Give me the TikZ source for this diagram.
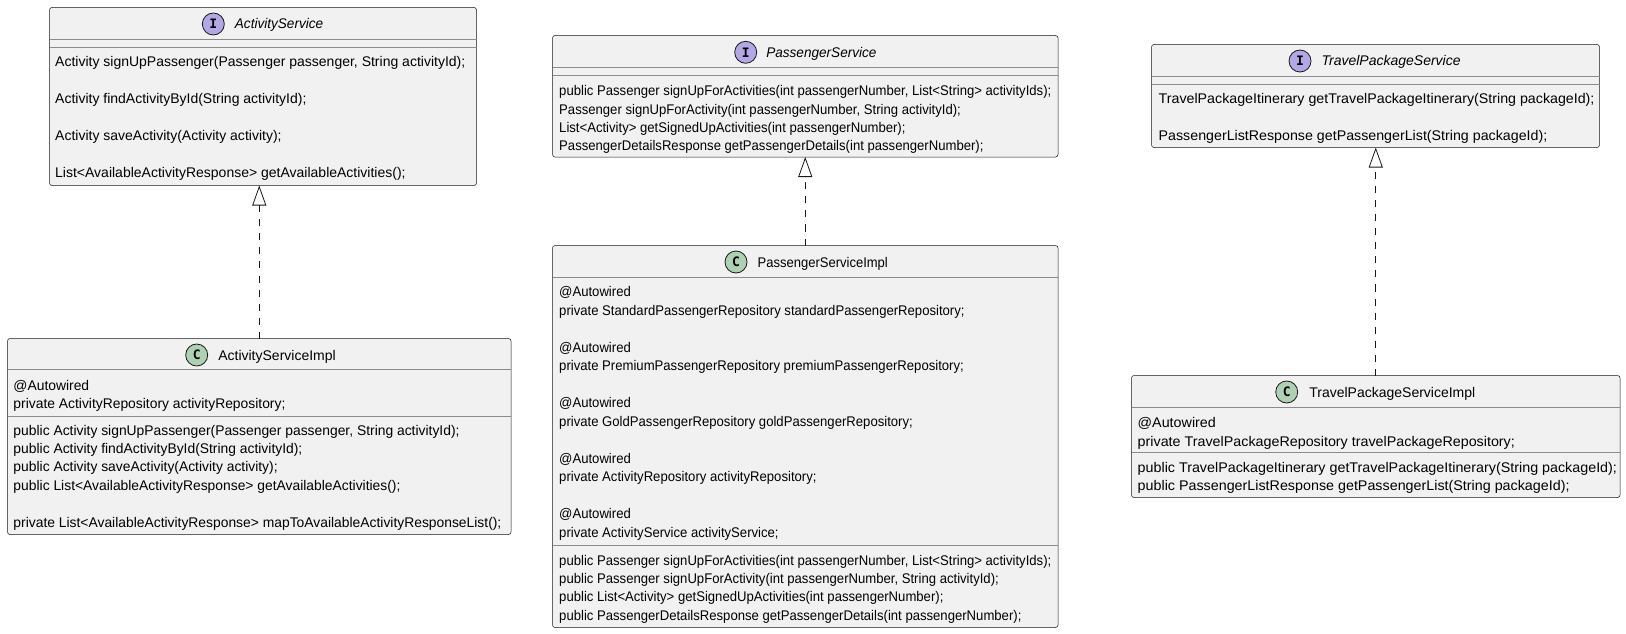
\documentclass[tikz,border=0pt]{standalone}
\usepackage{graphicx}
\usepackage{fontspec}
\setmainfont{Liberation Sans}
\newfontfamily\spotfont{DejaVu Sans Mono}
\usetikzlibrary{arrows.meta,positioning}
\definecolor{boxfill}{HTML}{F1F1F1}
\definecolor{boxline}{HTML}{181818}
\definecolor{ifspot}{HTML}{B4A7E5}
\definecolor{clspot}{HTML}{ADD1B2}

\begin{document}
\begin{tikzpicture}[x=1bp, y=-1bp,
  box/.style={draw=boxline, fill=boxfill, line width=.5bp, rounded corners=2.5bp, inner sep=0, outer sep=0, anchor=north west},
  sep/.style={draw=boxline!50, line width=.5bp},
  txt/.style={anchor=west, inner sep=0, text height=10bp, text depth=0bp, font=\fontsize{14bp}{17bp}\selectfont},
  ititle/.style={txt, font=\fontsize{14bp}{17bp}\selectfont\itshape},
  spot/.style={circle, draw=boxline, line width=.8bp, minimum size=22bp, inner sep=0, font=\spotfont\bfseries\fontsize{13bp}{13bp}\selectfont},
  realizes/.style={draw=boxline, line width=.8bp, dash pattern=on 7bp off 7bp, -{Triangle[open, length=20bp, width=14bp]}}]
\path[use as bounding box, fill=white] (0,0) rectangle (1626,634);

% ActivityService
\node[box, minimum width=427bp, minimum height=178bp] (asvc) at (49.5,7.5) {};
\foreach \y in {39.5,47.5} \draw[sep] (49.5,\y) -- ++(427,0);
\node[spot, fill=ifspot] (asvcI) at (213.3,24) {I}; \node[ititle, right=10bp of asvcI] (asvcT) {\scalebox{.97}[1]{ActivityService}};
\foreach \y/\t in {62/{Activity signUpPassenger(Passenger passenger, String activityId);},
  99/{Activity findActivityById(String activityId);}, 136/{Activity saveActivity(Activity activity);},
  173/{List<AvailableActivityResponse> getAvailableActivities();}}
  \node[txt] at (55,\y) {\t};

% ActivityServiceImpl
\node[box, minimum width=503.5bp, minimum height=196bp] (asimpl) at (7.5,338.5) {};
\foreach \y in {369.5,416.5} \draw[sep] (7.5,\y) -- ++(503.5,0);
\node[spot, fill=clspot] (asimplC) at (196.7,355) {C}; \node[txt, right=10bp of asimplC] (asimplT) {ActivityServiceImpl};
\foreach \y/\t in {385/{@Autowired}, 403.4/{private ActivityRepository activityRepository;},
  430/{public Activity signUpPassenger(Passenger passenger, String activityId);},
  448.4/{public Activity findActivityById(String activityId);},
  466.8/{public Activity saveActivity(Activity activity);},
  485.2/{public List<AvailableActivityResponse> getAvailableActivities();},
  522/{private List<AvailableActivityResponse> mapToAvailableActivityResponseList();}}
  \node[txt] at (13.3,\y) {\scalebox{.99}[1]{\t}};

% PassengerService
\node[box, minimum width=505.5bp, minimum height=121.5bp] (psvc) at (552.5,35.5) {};
\foreach \y in {67.5,75.5} \draw[sep] (552.5,\y) -- ++(505.5,0);
\node[spot, fill=ifspot] (psvcI) at (745.7,52.3) {I}; \node[ititle, right=9bp of psvcI] (psvcT) {\scalebox{.97}[1]{PassengerService}};
\foreach \y/\t in {90.7/{public Passenger signUpForActivities(int passengerNumber, List<String> activityIds);},
  109.1/{Passenger signUpForActivity(int passengerNumber, String activityId);},
  127.5/{List<Activity> getSignedUpActivities(int passengerNumber);},
  145.9/{PassengerDetailsResponse getPassengerDetails(int passengerNumber);}}
  \node[txt] at (559,\y) {\scalebox{.937}[1]{\t}};

% PassengerServiceImpl
\node[box, minimum width=505.5bp, minimum height=382bp] (psimpl) at (552.5,245.5) {};
\foreach \y in {277.5,545.5} \draw[sep] (552.5,\y) -- ++(505.5,0);
\node[spot, fill=clspot] (psimplC) at (736,262) {C}; \node[txt, right=10bp of psimplC] (psimplT) {\scalebox{.93}[1]{PassengerServiceImpl}};
\foreach \y in {291.7,347.2,402.7,458.2,513.7} \node[txt] at (559,\y) {\scalebox{.937}[1]{@Autowired}};
\foreach \y/\t in {310.2/{private StandardPassengerRepository standardPassengerRepository;},
  365.7/{private PremiumPassengerRepository premiumPassengerRepository;},
  421.2/{private GoldPassengerRepository goldPassengerRepository;},
  476.7/{private ActivityRepository activityRepository;},
  532.2/{private ActivityService activityService;},
  560/{public Passenger signUpForActivities(int passengerNumber, List<String> activityIds);},
  578.4/{public Passenger signUpForActivity(int passengerNumber, String activityId);},
  596.8/{public List<Activity> getSignedUpActivities(int passengerNumber);},
  615.2/{public PassengerDetailsResponse getPassengerDetails(int passengerNumber);}}
  \node[txt] at (559,\y) {\scalebox{.937}[1]{\t}};

% TravelPackageService
\node[box, minimum width=448bp, minimum height=103bp] (tpsvc) at (1151.5,44.5) {};
\foreach \y in {76.5,84.5} \draw[sep] (1151.5,\y) -- ++(448,0);
\node[spot, fill=ifspot] (tpsvcI) at (1300,61) {I}; \node[ititle, right=10bp of tpsvcI] (tpsvcT) {TravelPackageService};
\foreach \y/\t in {99/{TravelPackageItinerary getTravelPackageItinerary(String packageId);},
  136/{PassengerListResponse getPassengerList(String packageId);}}
  \node[txt] at (1158.5,\y) {\scalebox{1.017}[1]{\t}};

% TravelPackageServiceImpl
\node[box, minimum width=488.5bp, minimum height=122bp] (tpsimpl) at (1131.5,375.5) {};
\foreach \y in {407.5,452.5} \draw[sep] (1131.5,\y) -- ++(488.5,0);
\node[spot, fill=clspot] (tpsimplC) at (1286.7,392) {C}; \node[txt, right=11bp of tpsimplC] (tpsimplT) {TravelPackageServiceImpl};
\foreach \y/\t in {422.7/{@Autowired}, 441/{private TravelPackageRepository travelPackageRepository;},
  467.3/{public TravelPackageItinerary getTravelPackageItinerary(String packageId);},
  485.3/{public PassengerListResponse getPassengerList(String packageId);}}
  \node[txt] at (1137.5,\y) {\scalebox{1.022}[1]{\t}};

% realizations
\draw[realizes] (asimpl.north) -- (asimpl.north |- asvc.south);
\draw[realizes] (psimpl.north) -- (psvc.south);
\draw[realizes] (tpsimpl.north) -- (tpsimpl.north |- tpsvc.south);
\end{tikzpicture}
\end{document}
